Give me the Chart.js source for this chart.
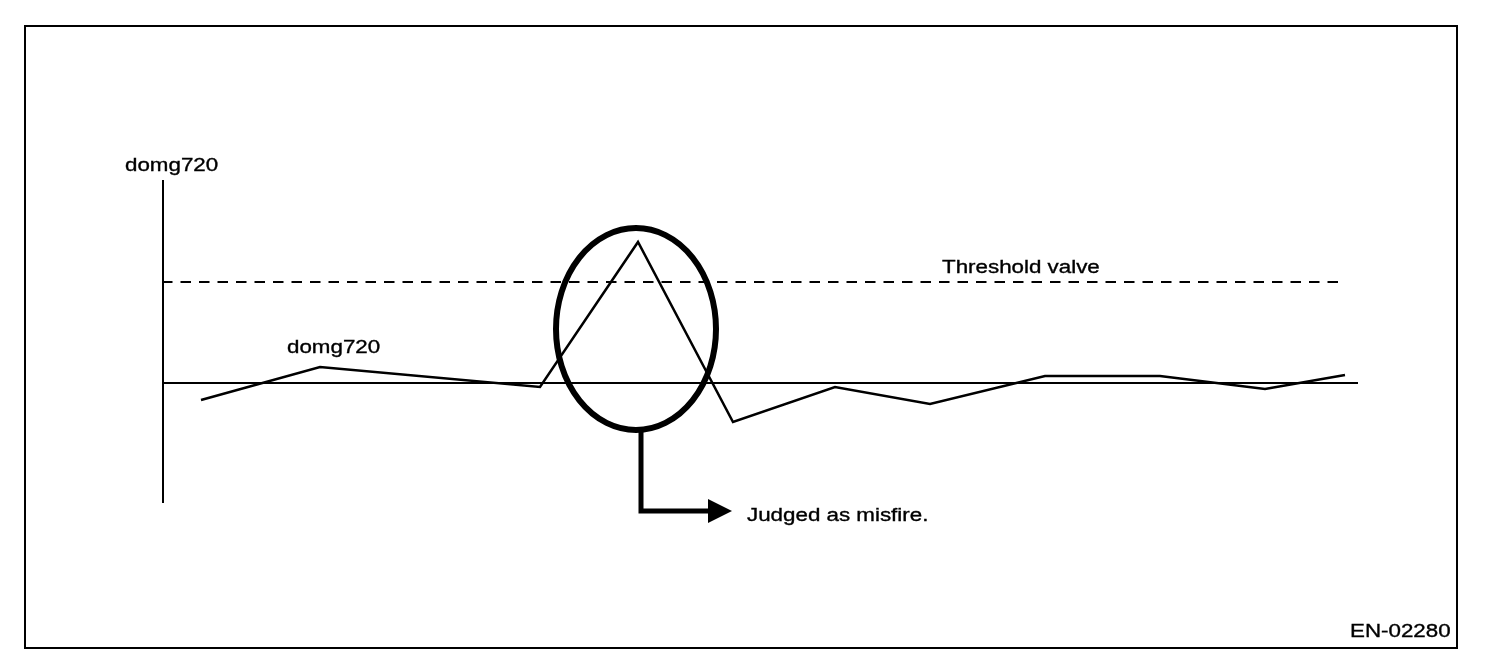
<!DOCTYPE html>
<html>
<head>
<meta charset="utf-8">
<script src="https://cdn.jsdelivr.net/npm/chart.js@4"></script>
<style>
  html, body { margin: 0; padding: 0; background: #fff; }
  #wrap { width: 1504px; height: 660px; }
</style>
</head>
<body>
<div id="wrap"><canvas id="c" width="1504" height="660"></canvas></div>
<script>
// ---- data (x: relative crank position units, y: domg720 value) ----
const sampleX = [39, 158, 378, 476, 571, 673, 768, 883, 998, 1103, 1183];
const domg720 = [-17, 16, -4, 141, -39, -4, -21, 7, 7, -6, 8];
const thresholdValue = 101;
const thresholdSpan = [0, 1176];
const zeroSpan = [0, 1196];
const xRange = [0, 1196];
const yRange = [-120, 203];
const misfireIndex = 3;

const labels = {
  yAxis: 'domg720',
  series: 'domg720',
  threshold: 'Threshold valve',
  judged: 'Judged as misfire.',
  code: 'EN-02280'
};

const seriesPoints = sampleX.map((x, i) => ({ x: x, y: domg720[i] }));

const FONT = '18.8px "Liberation Sans", Arial, sans-serif';
function stretchedText(ctx, text, x, y) {
  ctx.save();
  ctx.font = FONT;
  ctx.fillStyle = '#000';
  ctx.strokeStyle = '#000';
  ctx.lineWidth = 0.35;
  ctx.textBaseline = 'alphabetic';
  ctx.textAlign = 'left';
  ctx.translate(x, y);
  ctx.scale(1.19, 1);
  ctx.fillText(text, 0, 0);
  ctx.strokeText(text, 0, 0);
  ctx.restore();
}

const diagramPlugin = {
  id: 'diagram',
  beforeDraw(chart) {
    const ctx = chart.ctx;
    ctx.save();
    ctx.fillStyle = '#fff';
    ctx.fillRect(0, 0, chart.width, chart.height);
    ctx.strokeStyle = '#000';
    ctx.lineWidth = 2;
    ctx.strokeRect(25, 26, 1432, 622);
    // y axis line
    const a = chart.chartArea;
    ctx.beginPath();
    ctx.moveTo(a.left + 1, a.top);
    ctx.lineTo(a.left + 1, a.bottom);
    ctx.stroke();
    ctx.restore();
  },
  afterDraw(chart) {
    const ctx = chart.ctx;
    const xs = chart.scales.x, ys = chart.scales.y;
    const a = chart.chartArea;
    // ellipse round the misfire peak
    const cx = xs.getPixelForValue(sampleX[misfireIndex]) - 2;
    const cy = ys.getPixelForValue(54);
    const rx = 80, ry = 101;
    ctx.save();
    ctx.strokeStyle = '#000';
    ctx.lineWidth = 6;
    ctx.beginPath();
    ctx.ellipse(cx, cy, rx, ry, 0, 0, Math.PI * 2);
    ctx.stroke();
    // arrow
    const ax = cx + 5;
    const ay = 511;
    ctx.lineWidth = 5;
    ctx.lineJoin = 'miter';
    ctx.beginPath();
    ctx.moveTo(ax, cy + ry);
    ctx.lineTo(ax, ay);
    ctx.lineTo(ax + 70, ay);
    ctx.stroke();
    ctx.fillStyle = '#000';
    ctx.beginPath();
    ctx.moveTo(ax + 67, ay - 12);
    ctx.lineTo(ax + 91, ay);
    ctx.lineTo(ax + 67, ay + 12);
    ctx.closePath();
    ctx.fill();
    ctx.restore();
    // texts
    stretchedText(ctx, labels.yAxis, a.left - 37, 171);
    stretchedText(ctx, labels.series, xs.getPixelForValue(sampleX[1]) - 33, 353);
    stretchedText(ctx, labels.threshold, 942, ys.getPixelForValue(thresholdValue) - 9);
    stretchedText(ctx, labels.judged, ax + 106, 521);
    stretchedText(ctx, labels.code, 1350, 637);
  }
};

new Chart(document.getElementById('c'), {
  type: 'scatter',
  data: {
    datasets: [
      {
        label: 'zero',
        data: [{ x: zeroSpan[0], y: 0 }, { x: zeroSpan[1], y: 0 }],
        showLine: true, borderColor: '#000', borderWidth: 1.8,
        pointRadius: 0, clip: false, order: 3
      },
      {
        label: labels.threshold,
        data: [{ x: thresholdSpan[0], y: thresholdValue }, { x: thresholdSpan[1], y: thresholdValue }],
        showLine: true, borderColor: '#000', borderWidth: 2, borderDash: [10.5, 8],
        pointRadius: 0, clip: false, order: 2
      },
      {
        label: labels.series,
        data: seriesPoints,
        showLine: true, borderColor: '#000', borderWidth: 2.5, tension: 0,
        pointRadius: 0, clip: false, order: 1
      }
    ]
  },
  options: {
    responsive: false,
    animation: false,
    events: [],
    layout: { padding: { left: 162, right: 146, top: 180, bottom: 157 } },
    plugins: { legend: { display: false }, tooltip: { enabled: false } },
    scales: {
      x: { type: 'linear', min: xRange[0], max: xRange[1], display: false },
      y: { type: 'linear', min: yRange[0], max: yRange[1], display: false }
    }
  },
  plugins: [diagramPlugin]
});
</script>
</body>
</html>
